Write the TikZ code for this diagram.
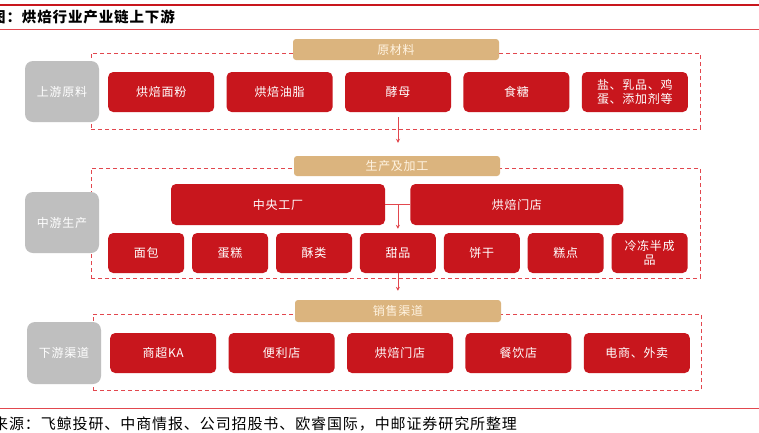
\documentclass[tikz,border=0pt]{standalone}
\usepackage{fontspec}
\newfontfamily\cjk[LetterSpace=6]{Noto Sans CJK SC}
\usepackage{tikz}
\usetikzlibrary{arrows.meta, positioning}
\definecolor{ZYRed}{HTML}{C8161D}
\definecolor{ZYLine}{HTML}{E2474E}
\definecolor{ZYTan}{HTML}{DBB47E}
\definecolor{ZYGrey}{HTML}{BFBFBF}
\definecolor{ZYCream}{HTML}{FFF4E2}

\begin{document}
\begin{tikzpicture}[
  x=1pt, y=-1pt,
  font=\cjk\fontsize{12}{14}\selectfont,
  stage/.style={rectangle, rounded corners=8pt, fill=ZYGrey, text=white,
                minimum width=74pt, minimum height=61pt, inner sep=0pt},
  item/.style={rectangle, rounded corners=5pt, fill=ZYRed, text=white,
               minimum width=106pt, minimum height=40pt, inner sep=0pt, align=center},
  small/.style={item, minimum width=76pt},
  wide/.style={item, minimum width=214pt, minimum height=41pt},
  group/.style={rectangle, draw=ZYLine, line width=1pt,
                dash pattern=on 4pt off 3pt, inner sep=0pt},
  head/.style={rectangle, rounded corners=3pt, fill=ZYTan, text=ZYCream,
               minimum width=206pt, minimum height=21pt, inner sep=0pt},
  arr/.style={-{Stealth[length=4pt, width=4pt]}, ZYLine, line width=0.8pt},
  node distance=12pt,
]
\clip (0,0) rectangle (759,432);
\fill[white] (0,0) rectangle (759,432);

% title and rules
\draw[ZYRed, line width=2pt] (0,5) -- (759,5);
\node[anchor=west, inner sep=0pt, font=\cjk\bfseries\fontsize{14.5}{17}\selectfont] (title) at (-9,17) {图：烘焙行业产业链上下游};
\draw[ZYLine, line width=0.8pt] (0,29) -- (759,29);

% dashed frames
\node[group, minimum width=609pt, minimum height=76pt]  (frameup)   at (395.5,91)  {};
\node[group, minimum width=609pt, minimum height=110pt] (framemid)  at (395.5,223) {};
\node[group, minimum width=608pt, minimum height=76pt]  (framedown) at (397,352)   {};

\node[head]                     (hup)   at (396,49.5) {原材料};
\node[head, minimum height=20pt] (hmid)  at (397,166)  {生产及加工};
\node[head, minimum height=22pt] (hdown) at (398,311)  {销售渠道};

% stages
\node[stage] (sup)   at (62,91.5)  {上游原料};
\node[stage] (smid)  at (62,222.5) {中游生产};
\node[stage, minimum height=62pt] (sdown) at (64,353) {下游渠道};

% upstream
\node[item, anchor=west]     (flour) at (108,92) {烘焙面粉};
\node[item, right=of flour]  (fat)   {烘焙油脂};
\node[item, right=of fat]    (yeast) {酵母};
\node[item, right=of yeast]  (sugar) {食糖};
\node[item, right=of sugar]  (other) {盐、乳品、鸡\\蛋、添加剂等};

% midstream
\node[wide] (factory) at (278,204.5) {中央工厂};
\node[wide, minimum width=213pt, right=25pt of factory] (shop) {烘焙门店};
\node[small, anchor=west]            (bread)   at (108,253) {面包};
\node[small, right=7.5pt of bread]   (cake)    {蛋糕};
\node[small, right=7.5pt of cake]    (crisp)   {酥类};
\node[small, right=7.5pt of crisp]   (dessert) {甜品};
\node[small, right=7.5pt of dessert] (biscuit) {饼干};
\node[small, right=7.5pt of biscuit] (pastry)  {糕点};
\node[small, right=7.5pt of pastry]  (frozen)  {冷冻半成\\品};

% downstream
\node[item, anchor=west]        (retail)   at (110,353) {商超KA};
\node[item, right=of retail]    (conv)     {便利店};
\node[item, right=of conv]      (bakery)   {烘焙门店};
\node[item, right=of bakery]    (catering) {餐饮店};
\node[item, right=of catering]  (online)   {电商、外卖};

% source
\draw[ZYLine, line width=0.8pt] (0,408) -- (759,408);
\node[anchor=west, inner sep=0pt, font=\cjk\fontsize{15}{17}\selectfont] (source) at (-7,424) {来源：飞鲸投研、中商情报、公司招股书、欧睿国际，中邮证券研究所整理};

\draw[arr] ([yshift=-5pt]yeast.south) -- ([yshift=13pt]hmid.north -| yeast.south);
\draw[ZYLine, line width=0.8pt] (factory.east) -- (shop.west);
\draw[arr] (dessert.north |- factory.east) -- ([yshift=4pt]dessert.north);
\draw[arr] (dessert.south) -- ([yshift=9pt]hdown.north -| dessert.south);
\end{tikzpicture}
\end{document}
